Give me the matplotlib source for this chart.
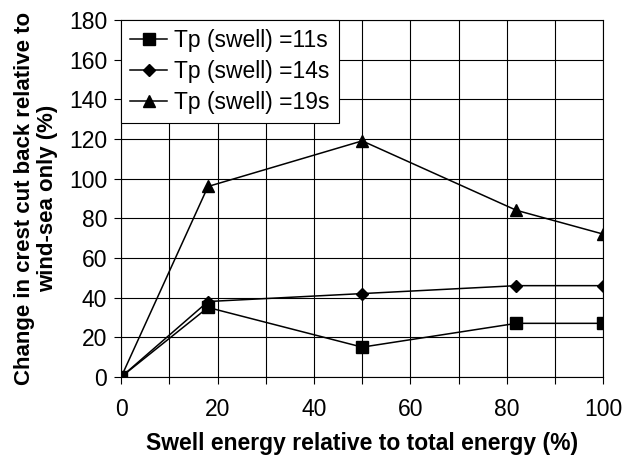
import numpy as np
import matplotlib.pyplot as plt

# swell energy share (%) and change in crest cut back (%)
swell_energy = [0, 18, 50, 82, 100]
tp_11 = [0, 35, 15, 27, 27]
tp_14 = [0, 38, 42, 46, 46]
tp_19 = [0, 96, 119, 84, 72]
series_labels = ['Tp (swell) =11s', 'Tp (swell) =14s', 'Tp (swell) =19s']

plt.rcParams['font.family'] = ['Liberation Sans', 'DejaVu Sans']

fig = plt.figure(figsize=(6.25, 4.63), dpi=100)
ax = fig.add_axes([0.194, 0.186, 0.771, 0.771])

ax.plot(swell_energy, tp_11, color='black', lw=1.1, marker='s', ms=8, label=series_labels[0])
ax.plot(swell_energy, tp_14, color='black', lw=1.1, marker='D', ms=6, label=series_labels[1])
ax.plot(swell_energy, tp_19, color='black', lw=1.1, marker='^', ms=8, label=series_labels[2])

ax.set_xlim(0, 100)
ax.set_ylim(0, 180)
ax.set_xticks(np.arange(0, 101, 20))
ax.set_xticks(np.arange(0, 101, 10), minor=True)
ax.set_yticks(np.arange(0, 181, 20))
ax.grid(True, which='both', color='black', lw=0.8)
ax.set_axisbelow(True)
ax.tick_params(axis='both', labelsize=16.5, length=5, width=0.8, direction='out')
ax.tick_params(axis='x', pad=10)
ax.tick_params(axis='y', pad=5)
ax.tick_params(axis='x', which='minor', length=5, width=0.8)
for s in ax.spines.values():
    s.set_linewidth(0.8)

ax.set_xlabel('Swell energy relative to total energy (%)', fontsize=16.5, fontweight='bold', labelpad=8)
ax.set_ylabel('Change in crest cut back relative to\nwind-sea only (%)', fontsize=16,
              fontweight='bold', labelpad=8, linespacing=1.1)

leg = ax.legend(loc='upper left', fontsize=16.5, frameon=True, fancybox=False,
                borderaxespad=0.0, handlelength=1.6, handletextpad=0.3,
                borderpad=0.4, labelspacing=0.35)
leg.get_frame().set_edgecolor('black')
leg.get_frame().set_linewidth(0.8)
leg.get_frame().set_alpha(1)

fig.savefig('out.png', dpi=100)
